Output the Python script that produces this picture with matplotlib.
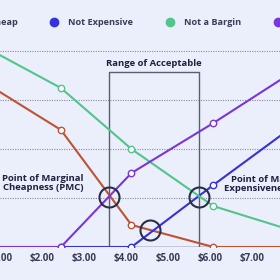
import matplotlib
matplotlib.use("Agg")
import matplotlib.pyplot as plt

# price points and cumulative share of respondents (%)
prices = [0.75, 2.45, 4.13, 6.08, 8.0]
too_cheap = [65.9, 47.8, 9.0, 0.0, 0.0]
not_expensive = [0.0, 0.0, 0.0, 25.3, 49.5]
not_bargain = [80.6, 64.9, 40.0, 16.7, 6.5]
too_expensive = [0.0, 0.0, 30.2, 50.6, 71.8]

series_names = ["Too Cheap", "Not Expensive", "Not a Bargin", "Too Expensive"]
series_colors = ["#bf5232", "#3532dc", "#52c48c", "#7a35dc"]

# key points
pmc = (3.6, 20.3)
pme = (5.74, 20.4)
opp = (4.57, 6.9)
range_top = 71.4

tick_prices = [1, 2, 3, 4, 5, 6, 7]
grid_levels = [20, 40, 60, 80]

bg = "#eaeffb"
ink = "#1f2040"
plt.rcParams['font.family'] = ['Open Sans', 'DejaVu Sans']

fig = plt.figure(figsize=(2.8, 2.8), dpi=100, facecolor=bg)
ax = fig.add_axes([0, 33 / 280, 1, 247 / 280])
ax.set_facecolor(bg)
ax.set_xlim(1, 1 + 280 / 42)
ax.set_ylim(0, 247 / 49 * 20)

for g in grid_levels:
    ax.axhline(g, color="#8a8d99", lw=0.8, ls=(0, (1, 1.2)), zorder=1)
ax.axhline(0, color="#2a2d3e", lw=1, zorder=1)

# range of acceptable prices box
ax.plot([pmc[0], pmc[0], pme[0], pme[0]], [0, range_top, range_top, 0],
        color="#5b5e6e", lw=1, zorder=2)
ax.text((pmc[0] + pme[0]) / 2, range_top + 1.5, "Range of Acceptable",
        ha="center", va="bottom", fontsize=6.8, fontweight="bold", color=ink)

for vals, name, col in zip([too_cheap, not_expensive, not_bargain, too_expensive],
                           series_names, series_colors):
    ax.plot(prices, vals, color=col, lw=1.5, marker="o", ms=4.6,
            mfc="white", mec=col, mew=1, label=name, zorder=3)

for pt in [pmc, pme, opp]:
    ax.plot(pt[0], pt[1], marker="o", ms=14.4, mfc="none", mec="#2a2f45",
            mew=1.5, zorder=4)

ax.text(2.02, 26.3, "Point of Marginal\nCheapness (PMC)", ha="center",
        va="center", fontsize=6.8, fontweight="bold", color=ink, linespacing=1.0)
ax.text(7.48, 25.8, "Point of Marginal\nExpensiveness (PME)", ha="center",
        va="center", fontsize=6.8, fontweight="bold", color=ink, linespacing=1.0)

ax.set_xticks(tick_prices)
ax.set_xticklabels([f"${p:.2f}" for p in tick_prices], fontsize=7,
                   fontweight="bold", color="#3a3d55")
ax.tick_params(axis="x", length=0, pad=4)
ax.set_yticks([])
for s in ax.spines.values():
    s.set_visible(False)

handles = [plt.Line2D([], [], ls="none", marker="o", ms=6, color=c) for c in series_colors]
fig.legend(handles, series_names, loc="center", bbox_to_anchor=(0.541, 0.918),
           ncol=4, frameon=False, handletextpad=0.5,
           columnspacing=3.0, prop={"weight": "bold", "size": 6.6},
           labelcolor="#3a3d55")

plt.savefig("out.png", dpi=100, facecolor=bg)
